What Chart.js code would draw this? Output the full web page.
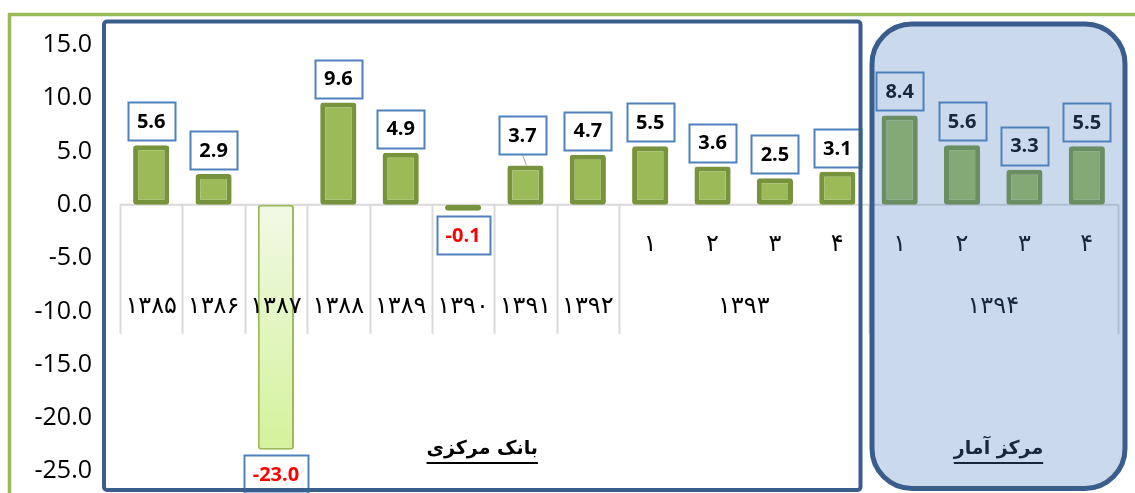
<!DOCTYPE html>
<html>
<head>
<meta charset="utf-8">
<script src="https://cdn.jsdelivr.net/npm/chart.js@4.4.0/dist/chart.umd.min.js"></script>
<style>
html, body { margin: 0; padding: 0; background: #fff; }
#wrap { width: 1135px; height: 493px; position: relative; }
</style>
</head>
<body>
<div id="wrap"><canvas id="myChart"></canvas></div>
<script>
// values
var years = ['۱۳۸۵', '۱۳۸۶', '۱۳۸۷', '۱۳۸۸', '۱۳۸۹', '۱۳۹۰', '۱۳۹۱', '۱۳۹۲',
             '۱۳۹۳', '۱۳۹۳', '۱۳۹۳', '۱۳۹۳', '۱۳۹۴', '۱۳۹۴', '۱۳۹۴', '۱۳۹۴'];
var quarters = ['', '', '', '', '', '', '', '', '۱', '۲', '۳', '۴', '۱', '۲', '۳', '۴'];
var growth = [5.6, 2.9, -23.0, 9.6, 4.9, -0.1, 3.7, 4.7, 5.5, 3.6, 2.5, 3.1, 8.4, 5.6, 3.3, 5.5];
var yTicks = [15, 10, 5, 0, -5, -10, -15, -20, -25];
var bankLabel = 'بانک مرکزی';
var statLabel = 'مرکز آمار';

var persianFont = '"DejaVu Sans"';
var numFont = '"Open Sans"';

// white page + green outer frame
var frame = {
  id: 'frame',
  beforeDraw: function(chart) {
    var ctx = chart.ctx;
    ctx.save();
    ctx.fillStyle = '#fff';
    ctx.fillRect(0, 0, chart.width, chart.height);
    ctx.strokeStyle = '#9bbb59';
    ctx.lineWidth = 3.5;
    ctx.strokeRect(9.5, 14.5, 2000, 2000);
    ctx.restore();
  }
};

// category axis drawn on the zero line, with grouped year labels
var catAxis = {
  id: 'catAxis',
  beforeDatasetsDraw: function(chart) {
    var ctx = chart.ctx, x = chart.scales.x;
    var y0 = chart.scales.y.getPixelForValue(0);
    var half = (x.getPixelForValue(1) - x.getPixelForValue(0)) / 2;
    ctx.save();
    ctx.strokeStyle = '#d9d9d9';
    ctx.lineWidth = 2;
    ctx.beginPath();
    ctx.moveTo(x.left, y0);
    ctx.lineTo(x.right, y0);
    for (var i = 0; i <= years.length; i++) {
      if (i === 0 || i === years.length || years[i] !== years[i - 1]) {
        var px = i < years.length ? x.getPixelForValue(i) - half : x.getPixelForValue(i - 1) + half;
        px = Math.round(px) + 0.5;
        ctx.moveTo(px, y0);
        ctx.lineTo(px, y0 + 129);
      }
    }
    ctx.stroke();
    ctx.restore();
  },
  afterDatasetsDraw: function(chart) {
    var ctx = chart.ctx, x = chart.scales.x;
    var y0 = chart.scales.y.getPixelForValue(0);
    ctx.save();
    ctx.fillStyle = '#000';
    ctx.textAlign = 'center';
    ctx.textBaseline = 'middle';
    ctx.font = '24px ' + persianFont;
    quarters.forEach(function(q, i) {
      if (q) ctx.fillText(q, x.getPixelForValue(i), y0 + 40);
    });
    var start = 0;
    for (var i = 1; i <= years.length; i++) {
      if (i === years.length || years[i] !== years[start]) {
        var cx = (x.getPixelForValue(start) + x.getPixelForValue(i - 1)) / 2;
        ctx.fillText(years[start], cx, y0 + 102);
        start = i;
      }
    }
    ctx.restore();
  }
};

// boxed value labels
var labelNudge = { 6: { dx: -3, dy: -6 } };
var boxLabels = {
  id: 'boxLabels',
  afterDatasetsDraw: function(chart) {
    var ctx = chart.ctx;
    var meta = chart.getDatasetMeta(0);
    ctx.save();
    ctx.font = 'bold 20px ' + numFont;
    ctx.textAlign = 'center';
    ctx.textBaseline = 'middle';
    meta.data.forEach(function(bar, i) {
      var v = growth[i];
      var txt = v.toFixed(1);
      var w = Math.round(ctx.measureText(txt).width + 18), h = 38;
      var n = labelNudge[i] || { dx: 0, dy: 0 };
      var cx = bar.x + n.dx;
      var top = v >= 0 ? bar.y - 5 - h + n.dy : bar.y + 5 - n.dy;
      if (n.dy) {
        ctx.strokeStyle = '#a6a6a6';
        ctx.lineWidth = 1;
        ctx.beginPath();
        ctx.moveTo(cx, top + h);
        ctx.lineTo(bar.x + 1, bar.y);
        ctx.stroke();
      }
      var lx = Math.round(cx - w / 2) + 0.5, ty = Math.round(top) + 0.5;
      ctx.fillStyle = '#fff';
      ctx.fillRect(lx, ty, w, h);
      ctx.strokeStyle = '#4f81bd';
      ctx.lineWidth = 2;
      ctx.strokeRect(lx, ty, w, h);
      ctx.fillStyle = v < 0 ? '#ff0000' : '#000';
      ctx.fillText(txt, cx, top + h / 2 + 1);
    });
    ctx.restore();
  }
};

function roundRect(ctx, l, t, r, b, rad) {
  ctx.beginPath();
  ctx.moveTo(l + rad, t);
  ctx.lineTo(r - rad, t);
  ctx.arcTo(r, t, r, t + rad, rad);
  ctx.lineTo(r, b - rad);
  ctx.arcTo(r, b, r - rad, b, rad);
  ctx.lineTo(l + rad, b);
  ctx.arcTo(l, b, l, b - rad, rad);
  ctx.lineTo(l, t + rad);
  ctx.arcTo(l, t, l + rad, t, rad);
  ctx.closePath();
}

function sourceLabel(ctx, txt, cx, cy) {
  ctx.font = 'bold 19px ' + persianFont;
  ctx.textAlign = 'center';
  ctx.textBaseline = 'middle';
  ctx.fillStyle = '#000';
  ctx.fillText(txt, cx, cy);
  var w = ctx.measureText(txt).width;
  ctx.fillRect(cx - w / 2, cy + 13, w, 2);
}

// source boxes: central bank (outline) and statistical centre (rounded, tinted)
var sourceBoxes = {
  id: 'sourceBoxes',
  afterDraw: function(chart) {
    var ctx = chart.ctx, x = chart.scales.x, ca = chart.chartArea;
    var half = (x.getPixelForValue(1) - x.getPixelForValue(0)) / 2;
    var split = x.getPixelForValue(11) + half;
    ctx.save();
    // central bank
    var bl = x.left - 16, br = split - 8, bt = ca.top + 0.5, bb = ca.bottom - 3;
    roundRect(ctx, bl, bt, br, bb, 3);
    ctx.strokeStyle = '#3a5e8c';
    ctx.lineWidth = 4;
    ctx.stroke();
    sourceLabel(ctx, bankLabel, (bl + br) / 2, 449);
    // statistical centre
    var sl = split + 3.5, sr = x.right + 7, st = ca.top + 3, sb = ca.bottom - 4.5;
    sourceLabel(ctx, statLabel, (sl + sr) / 2, 449);
    roundRect(ctx, sl, st, sr, sb, 40);
    ctx.fillStyle = 'rgba(79,129,189,0.3)';
    ctx.fill();
    ctx.strokeStyle = '#3a5e8c';
    ctx.lineWidth = 5;
    ctx.stroke();
    ctx.restore();
  }
};

var ctx = document.getElementById('myChart').getContext('2d');
var myChart = new Chart(ctx, {
  type: 'bar',
  data: {
    labels: years,
    datasets: [{
      data: growth,
      backgroundColor: function(c) {
        var v = c.raw;
        if (v < -5) {
          var y = c.chart.scales.y;
          if (!y) return '#e2f5c0';
          var g = c.chart.ctx.createLinearGradient(0, y.getPixelForValue(0), 0, y.getPixelForValue(v));
          g.addColorStop(0, '#f1f9e6');
          g.addColorStop(1, '#d4f29b');
          return g;
        }
        return '#9bbb59';
      },
      borderColor: function(c) { return c.raw < -5 ? '#9bbb59' : '#77933c'; },
      borderWidth: function(c) { return c.raw < -5 ? 2 : 5; },
      borderRadius: 3,
      borderSkipped: false,
      minBarLength: 6,
      barPercentage: 0.58,
      categoryPercentage: 1
    }]
  },
  options: {
    responsive: true,
    maintainAspectRatio: false,
    animation: false,
    layout: { padding: { left: 0, right: 17, top: 21, bottom: 0 } },
    plugins: {
      legend: { display: false },
      tooltip: { enabled: false }
    },
    scales: {
      x: { display: false },
      y: {
        min: -27.05,
        max: 17.26,
        afterFit: function(s) {
          s.width = 120;
          s.paddingTop = 0;
          s.paddingBottom = 0;
        },
        afterBuildTicks: function(s) { s.ticks = yTicks.map(function(v) { return { value: v }; }); },
        grid: { display: false, drawTicks: false },
        border: { display: false },
        ticks: {
          padding: 28,
          color: '#000',
          font: { family: 'Open Sans', size: 25 },
          callback: function(v) { return Number(v).toFixed(1); }
        }
      }
    }
  },
  plugins: [frame, catAxis, boxLabels, sourceBoxes]
});
</script>
</body>
</html>
